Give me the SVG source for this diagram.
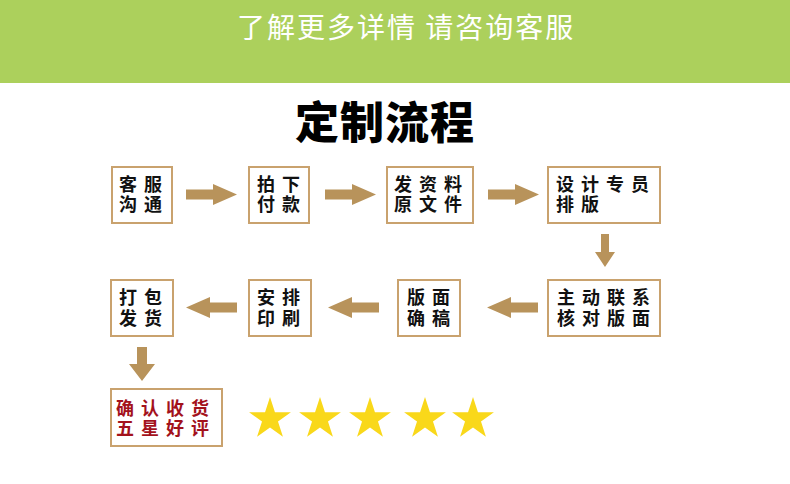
<svg xmlns="http://www.w3.org/2000/svg" xmlns:xlink="http://www.w3.org/1999/xlink" width="790" height="484" viewBox="0 0 790 484">
<style>
.box{fill:#fff;stroke:#c9a26e;stroke-width:2}
.t{font-family:"Noto Sans CJK SC","Noto Sans",sans-serif;font-size:18px;font-weight:700;fill:#111;letter-spacing:7px}
.red{fill:#a3121c}
.arr{fill:#b8935b}
.star{fill:#f9d81a}
</style>
<defs>
<path id="ar" d="M0,-5 H27 V-10.5 L51,0 L27,10.5 V5 H0 Z"/>
<polygon id="st" points="0,-22 4.94,-6.8 20.92,-6.8 7.99,2.6 12.93,17.8 0,8.4 -12.93,17.8 -7.99,2.6 -20.92,-6.8 -4.94,-6.8"/>
</defs>
<rect x="0" y="0" width="790" height="83" fill="#acd05c"/>
<text x="237" y="38" font-family="'Noto Sans CJK SC',sans-serif" font-size="28" fill="#fff" letter-spacing="2">了解更多详情 请咨询客服</text>
<text x="385" y="139" text-anchor="middle" font-family="'Noto Sans CJK SC',sans-serif" font-size="44" font-weight="900" fill="#000" letter-spacing="1">定制流程</text>

<g id="n1"><rect class="box" x="112" y="167" width="60" height="56"/><text class="t"><tspan x="119" y="190.5">客服</tspan><tspan x="119" y="211">沟通</tspan></text></g>
<g id="n2"><rect class="box" x="249" y="167" width="60" height="56"/><text class="t"><tspan x="257" y="190.5">拍下</tspan><tspan x="257" y="211">付款</tspan></text></g>
<g id="n3"><rect class="box" x="387" y="167" width="86" height="56"/><text class="t"><tspan x="394" y="190.5">发资料</tspan><tspan x="394" y="211">原文件</tspan></text></g>
<g id="n4"><rect class="box" x="548" y="167" width="112" height="56"/><text class="t"><tspan x="556" y="190.5">设计专员</tspan><tspan x="556" y="211">排版</tspan></text></g>
<g id="n5"><rect class="box" x="548" y="280" width="112" height="56"/><text class="t"><tspan x="557" y="304">主动联系</tspan><tspan x="557" y="324.5">核对版面</tspan></text></g>
<g id="n6"><rect class="box" x="398" y="280" width="62" height="56"/><text class="t"><tspan x="407" y="304">版面</tspan><tspan x="407" y="324.5">确稿</tspan></text></g>
<g id="n7"><rect class="box" x="249" y="280" width="62" height="56"/><text class="t"><tspan x="257" y="304">安排</tspan><tspan x="257" y="324.5">印刷</tspan></text></g>
<g id="n8"><rect class="box" x="111" y="280" width="62" height="56"/><text class="t"><tspan x="119" y="304">打包</tspan><tspan x="119" y="324.5">发货</tspan></text></g>
<g id="n9"><rect class="box" x="111" y="389" width="111" height="57"/><text class="t red"><tspan x="116" y="415">确认收货</tspan><tspan x="116" y="435">五星好评</tspan></text></g>

<g id="connectors" class="arr">
<use xlink:href="#ar" href="#ar" transform="translate(186,194.5)"/>
<use xlink:href="#ar" href="#ar" transform="translate(325,194.5)"/>
<use xlink:href="#ar" href="#ar" transform="translate(488,194.5)"/>
<path d="M601,234 H609 V252 H615 L605,267 L595,252 H601 Z"/>
<use xlink:href="#ar" href="#ar" transform="translate(538,307.5) scale(-1,1)"/>
<use xlink:href="#ar" href="#ar" transform="translate(379,307.5) scale(-1,1)"/>
<use xlink:href="#ar" href="#ar" transform="translate(237,307.5) scale(-1,1)"/>
<path d="M137,347 H147 V364 H155 L142,381 L129,364 H137 Z"/>
</g>

<g id="stars" class="star">
<use xlink:href="#st" href="#st" transform="translate(270,419)"/>
<use xlink:href="#st" href="#st" transform="translate(320,419)"/>
<use xlink:href="#st" href="#st" transform="translate(370,419)"/>
<use xlink:href="#st" href="#st" transform="translate(425,419)"/>
<use xlink:href="#st" href="#st" transform="translate(473,419)"/>
</g>
</svg>
